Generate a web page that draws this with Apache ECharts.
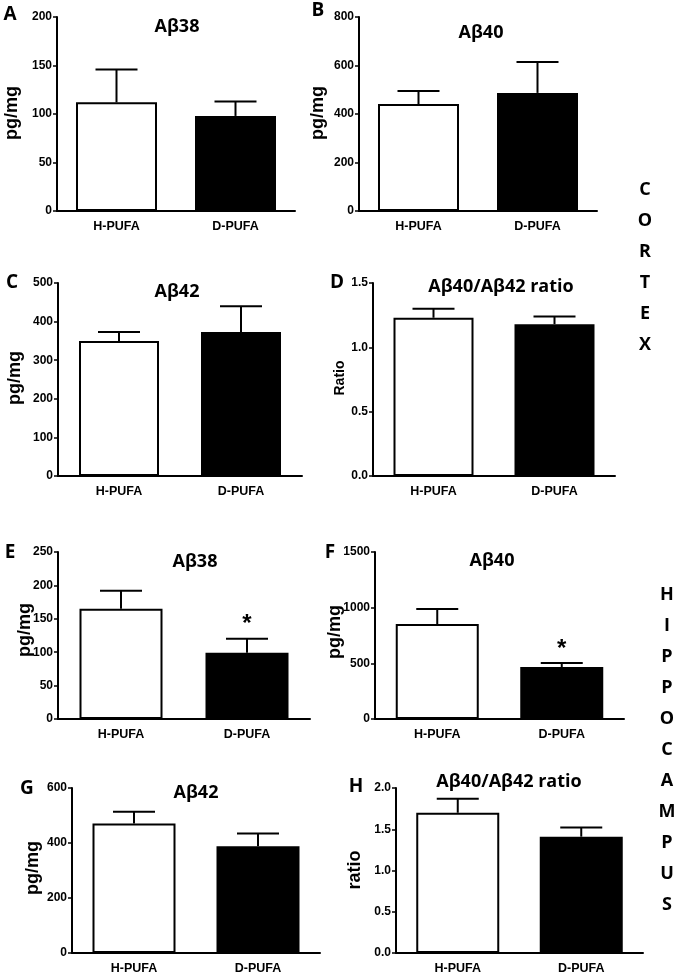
<!DOCTYPE html>
<html><head><meta charset="utf-8">
<script src="https://cdn.jsdelivr.net/npm/echarts@6/dist/echarts.min.js"></script>
<style>html,body{margin:0;padding:0;background:#fff}#c{width:679px;height:975px}</style>
</head><body><div id="c"></div>
<script>
// ---- data ----
const categories = ['H-PUFA', 'D-PUFA'];
const cortexAb38Mean = [112, 98];
const cortexAb38Sem = [34, 15];
const cortexAb40Mean = [441, 487];
const cortexAb40Sem = [54, 127];
const cortexAb42Mean = [350, 373];
const cortexAb42Sem = [23, 67];
const cortexRatioMean = [1.23, 1.18];
const cortexRatioSem = [0.07, 0.06];
const hippoAb38Mean = [165, 99];
const hippoAb38Sem = [27, 21];
const hippoAb40Mean = [853, 467];
const hippoAb40Sem = [135, 36];
const hippoAb42Mean = [471, 388];
const hippoAb42Sem = [43, 47];
const hippoRatioMean = [1.70, 1.41];
const hippoRatioSem = [0.17, 0.11];
const noSig = ['', ''];
const hippoAb38Sig = ['', '*'];
const hippoAb40Sig = ['', '*'];
const yMax = [200, 800, 500, 1.5, 250, 1500, 600, 2.0];
const yStep = [50, 200, 100, 0.5, 50, 500, 200, 0.5];
const yDecimals = [0, 0, 0, 1, 0, 0, 0, 1];
const panelTitles = ['Aβ38', 'Aβ40', 'Aβ42', 'Aβ40/Aβ42 ratio', 'Aβ38', 'Aβ40', 'Aβ42', 'Aβ40/Aβ42 ratio'];
const panelLetters = ['A', 'B', 'C', 'D', 'E', 'F', 'G', 'H'];
const yNames = ['pg/mg', 'pg/mg', 'pg/mg', 'Ratio', 'pg/mg', 'pg/mg', 'pg/mg', 'ratio'];
const sideCortex = 'CORTEX';
const sideHippo = 'HIPPOCAMPUS';

const means = [cortexAb38Mean, cortexAb40Mean, cortexAb42Mean, cortexRatioMean,
               hippoAb38Mean, hippoAb40Mean, hippoAb42Mean, hippoRatioMean];
const sems = [cortexAb38Sem, cortexAb40Sem, cortexAb42Sem, cortexRatioSem,
              hippoAb38Sem, hippoAb40Sem, hippoAb42Sem, hippoRatioSem];
const sigs = [noSig, noSig, noSig, noSig, hippoAb38Sig, hippoAb40Sig, noSig, noSig];

// ---- layout ----
const boxes = [
  {l: 57, r: 295, t: 17, b: 211, bw: 81},
  {l: 359, r: 597, t: 17, b: 211, bw: 81},
  {l: 58, r: 302, t: 283, b: 476, bw: 80},
  {l: 373, r: 615, t: 283, b: 476, bw: 80},
  {l: 58, r: 310, t: 552, b: 719, bw: 83},
  {l: 375, r: 624, t: 552, b: 719, bw: 83},
  {l: 72, r: 320, t: 788, b: 955, bw: 83},
  {l: 396, r: 643, t: 788, b: 955, bw: 83}
];
const titlePos = [[177, 27], [481, 33], [177, 292], [501, 287], [195, 562], [492, 561], [196, 793], [509, 782]];
const letterPos = [[10, 15], [318, 11], [12, 283], [337, 283], [10, 553], [330, 553], [27, 789], [356, 787]];
const yNamePos = [[12, 113], [318, 113], [15, 378], [340, 378], [25, 630], [335, 632], [33, 868], [355, 870]];
const yNameSize = [18, 18, 18, 14, 18, 18, 18, 18];
const HEAD_FONT = 'Open Sans';

const BLACK = '#000';
const grids = [], xAxes = [], yAxes = [], series = [], graphics = [];

boxes.forEach(function (bx, i) {
  grids.push({left: bx.l, top: bx.t, width: bx.r - bx.l, height: bx.b - bx.t, containLabel: false});
  xAxes.push({
    type: 'category', gridIndex: i, data: categories,
    axisLine: {lineStyle: {color: BLACK, width: 2}},
    axisTick: {alignWithLabel: true, length: 4, lineStyle: {color: BLACK, width: 2}},
    axisLabel: {color: BLACK, fontWeight: 'bold', fontSize: 12.5, fontFamily: 'Liberation Sans', margin: 9}
  });
  yAxes.push({
    type: 'value', gridIndex: i, min: 0, max: yMax[i], interval: yStep[i],
    axisLine: {show: true, lineStyle: {color: BLACK, width: 2}},
    axisTick: {show: true, length: 4, lineStyle: {color: BLACK, width: 1.5}},
    splitLine: {show: false},
    axisLabel: {
      color: BLACK, fontWeight: 'bold', fontSize: 12, fontFamily: 'Liberation Sans', margin: 5,
      formatter: (function (d) { return function (v) { return v.toFixed(d); }; })(yDecimals[i])
    }
  });
  series.push({
    type: 'bar', xAxisIndex: i, yAxisIndex: i, barWidth: bx.bw,
    data: means[i].map(function (v, k) {
      return {value: v, itemStyle: {color: k === 0 ? '#fff' : BLACK, borderColor: BLACK, borderWidth: 2}};
    }),
    silent: true, animation: false
  });
  const sg = sigs[i];
  series.push({
    type: 'custom', xAxisIndex: i, yAxisIndex: i, silent: true, animation: false, z: 3,
    data: means[i].map(function (v, k) { return [k, v, sems[i][k]]; }),
    renderItem: function (params, api) {
      const x = api.value(0), m = api.value(1), s = api.value(2);
      const p0 = api.coord([x, m]);
      const p1 = api.coord([x, m + s]);
      const half = 21;
      const children = [
        {type: 'line', shape: {x1: p0[0], y1: p0[1], x2: p1[0], y2: p1[1]}, style: {stroke: BLACK, lineWidth: 2}},
        {type: 'line', shape: {x1: p1[0] - half, y1: p1[1], x2: p1[0] + half, y2: p1[1]}, style: {stroke: BLACK, lineWidth: 2}}
      ];
      const mark = sg[params.dataIndex];
      if (mark) {
        children.push({type: 'text', style: {text: mark, x: p1[0], y: p1[1] - 2, align: 'center', verticalAlign: 'bottom',
          fontSize: 24, fontWeight: 'bold', fontFamily: 'Liberation Sans', fill: BLACK}});
      }
      return {type: 'group', children: children};
    }
  });
  graphics.push({type: 'text', x: titlePos[i][0], y: titlePos[i][1],
    style: {text: panelTitles[i], align: 'center', verticalAlign: 'middle', fontSize: 18, fontWeight: 'bold', fontFamily: HEAD_FONT, fill: BLACK}});
  graphics.push({type: 'text', x: letterPos[i][0], y: letterPos[i][1],
    style: {text: panelLetters[i], align: 'center', verticalAlign: 'middle', fontSize: 19, fontWeight: 'bold', fontFamily: HEAD_FONT, fill: BLACK}});
  graphics.push({type: 'text', x: yNamePos[i][0], y: yNamePos[i][1], rotation: Math.PI / 2,
    style: {text: yNames[i], align: 'center', verticalAlign: 'middle', fontSize: yNameSize[i], fontWeight: 'bold', fontFamily: 'Liberation Sans', fill: BLACK}});
});

const cortexY0 = 190, hippoY0 = 595, sideStep = 31;
sideCortex.split('').forEach(function (ch, k) {
  graphics.push({type: 'text', x: 645, y: cortexY0 + k * sideStep,
    style: {text: ch, align: 'center', verticalAlign: 'middle', fontSize: 18, fontWeight: 'bold', fontFamily: HEAD_FONT, fill: BLACK}});
});
sideHippo.split('').forEach(function (ch, k) {
  graphics.push({type: 'text', x: 667, y: hippoY0 + k * sideStep,
    style: {text: ch, align: 'center', verticalAlign: 'middle', fontSize: 18, fontWeight: 'bold', fontFamily: HEAD_FONT, fill: BLACK}});
});

const chart = echarts.init(document.getElementById('c'), null, {renderer: 'canvas'});
chart.setOption({
  backgroundColor: '#fff',
  animation: false,
  grid: grids, xAxis: xAxes, yAxis: yAxes, series: series,
  graphic: {elements: graphics}
});
</script>
</body></html>
